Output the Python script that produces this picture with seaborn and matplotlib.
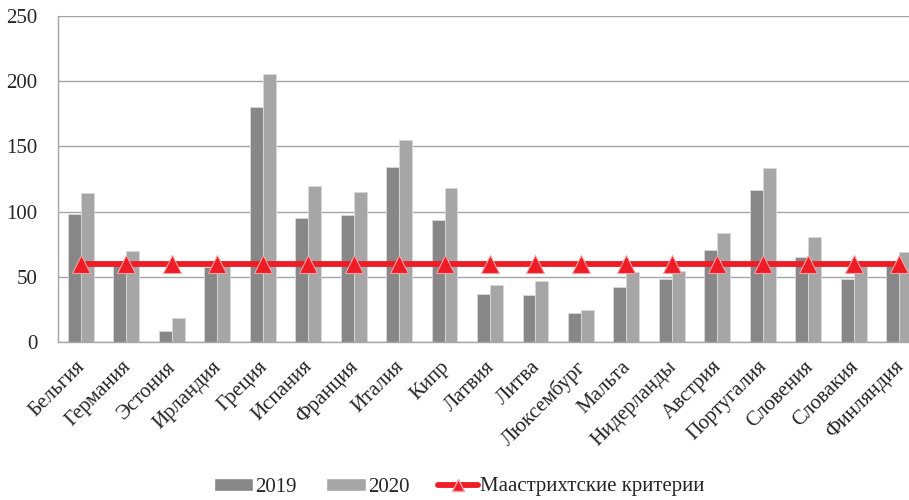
import numpy as np
import matplotlib
matplotlib.use('Agg')
import matplotlib.pyplot as plt
import matplotlib.transforms as mtransforms
import pandas as pd
import seaborn as sns
from matplotlib.patches import Patch
from matplotlib.lines import Line2D

countries = ['Бельгия', 'Германия', 'Эстония', 'Ирландия', 'Греция', 'Испания',
             'Франция', 'Италия', 'Кипр', 'Латвия', 'Литва', 'Люксембург',
             'Мальта', 'Нидерланды', 'Австрия', 'Португалия', 'Словения',
             'Словакия', 'Финляндия']
debt_2019 = [98, 59.6, 8.4, 57.4, 180.5, 95.1, 97.1, 134.2, 93.6, 37.1, 35.8,
             22.0, 42.2, 48.6, 70.6, 116.8, 65.4, 48.1, 59.5]
debt_2020 = [114, 69.8, 18.1, 59.5, 205.3, 119.6, 115.3, 155.2, 118.1, 43.5,
             47.0, 24.5, 53.7, 54.4, 83.3, 133.4, 80.5, 59.0, 69.0]
criterion = [60] * len(countries)
years = ['2019', '2020']
crit_label = 'Маастрихтские критерии'

df = pd.DataFrame({
    'country': countries * 2,
    'year': [years[0]] * len(countries) + [years[1]] * len(countries),
    'value': debt_2019 + debt_2020,
})

sns.set_style('white')
plt.rcParams['font.family'] = ['Liberation Serif', 'DejaVu Serif']
plt.rcParams['font.size'] = 15

colors = {'2019': '#878787', '2020': '#a6a6a6'}
red = '#ee1c25'
grid_c = '#a6a6a6'

fig = plt.figure(figsize=(9.09, 5), dpi=100)
ax = fig.add_axes([58 / 909, 1 - 342 / 500, 864 / 909, 326 / 500])

sns.barplot(data=df, x='country', y='value', hue='year', order=countries,
            hue_order=years, palette=colors, width=0.57, gap=0,
            edgecolor='#d9d9d9', linewidth=0.6, legend=False, ax=ax, zorder=2)

x = np.arange(len(countries))
ax.plot(x, criterion, color=red, lw=4.2, marker='^', markersize=12.5,
        markerfacecolor=red, markeredgecolor='#f4a0a4', markeredgewidth=0.8,
        zorder=4, solid_capstyle='butt')

ax.set_ylim(0, 250)
ax.set_yticks([0, 50, 100, 150, 200, 250])
ax.set_xlim(-0.5, len(countries) - 0.5)
ax.yaxis.grid(True, color=grid_c, lw=1)
ax.set_axisbelow(True)
ax.set_xlabel('')
ax.set_ylabel('')

for s in ['top', 'right']:
    ax.spines[s].set_visible(False)
for s in ['left', 'bottom']:
    ax.spines[s].set_color(grid_c)
    ax.spines[s].set_linewidth(1)

# ticks between categories on x
ax.set_xticks(np.arange(len(countries) + 1) - 0.5, minor=True)
ax.tick_params(axis='x', which='minor', length=7, color=grid_c, width=1,
               direction='out')
ax.tick_params(axis='x', which='major', length=0, pad=11)
ax.tick_params(axis='y', length=6, color=grid_c, width=1, direction='out', pad=9,
               labelsize=15)
ax.set_xticks(x)
ax.set_xticklabels(countries, rotation=45, ha='right', va='top',
                   rotation_mode='anchor', fontsize=15)
shift = mtransforms.ScaledTranslation(-5 / 100, 0, fig.dpi_scale_trans)
for lab in ax.get_xticklabels():
    lab.set_transform(lab.get_transform() + shift)

handles = [Patch(facecolor=colors['2019'], label='2019'),
           Patch(facecolor=colors['2020'], label='2020'),
           Line2D([0], [0], color=red, lw=4.2, marker='^', markersize=9,
                  markerfacecolor=red, markeredgecolor='#f4a0a4',
                  label=crit_label)]
fig.legend(handles=handles, loc='center', bbox_to_anchor=(459 / 909, 1 - 487 / 500),
           ncol=3, frameon=False, fontsize=15, handlelength=1.9,
           handleheight=0.6, handletextpad=0.1, columnspacing=1.4)

fig.savefig('out.png', dpi=100)
